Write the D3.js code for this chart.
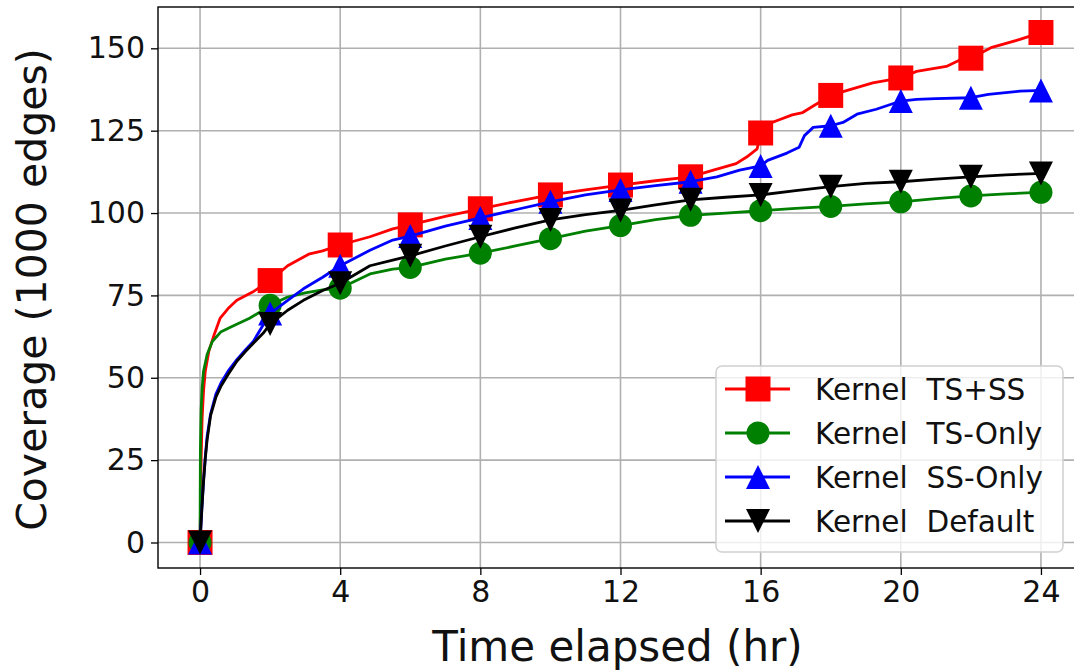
<!DOCTYPE html>
<html>
<head>
<meta charset="utf-8">
<script src="https://cdn.jsdelivr.net/npm/d3@7"></script>
<style>
  html, body { margin: 0; padding: 0; background: #fff; }
  svg { display: block; font-family: "DejaVu Sans", sans-serif; }
</style>
</head>
<body>
<svg id="chart" width="1074" height="671"></svg>
<script>
// ---- data ----
const seriesNames = ["Kernel  TS+SS", "Kernel  TS-Only", "Kernel  SS-Only", "Kernel  Default"];
const seriesColors = ["#ff0000", "#008000", "#0000ff", "#000000"];
const seriesMarkers = ["square", "circle", "triangleUp", "triangleDown"];
const markerHours = [0, 2, 4, 6, 8, 10, 12, 14, 16, 18, 20, 22, 24];
const xTicks = [0, 4, 8, 12, 16, 20, 24];
const yTicks = [0, 25, 50, 75, 100, 125, 150];

const tsssHours = [0, 0.03, 0.06, 0.1, 0.15, 0.25, 0.4, 0.57, 0.8, 1.05, 1.5, 2, 2.5, 3.1, 3.5, 4, 4.85, 5.5, 6, 7, 8, 9, 10, 11, 12, 13, 14, 14.65, 15.3, 15.6, 15.9, 16, 16.2, 16.55, 16.9, 17.2, 17.5, 18, 18.4, 19.2, 20, 20.45, 21.3, 21.7, 22, 22.6, 23.4, 24];
const tsssValues = [0, 25, 38, 46, 52, 58, 63, 68, 71, 73.5, 76, 79.5, 84, 87.5, 88.5, 90.3, 92.8, 95.2, 96.4, 99, 101.3, 103.5, 105.5, 107, 108.5, 109.8, 111, 113, 115, 117, 119.5, 124.3, 127, 128.4, 129.8, 130.5, 132.5, 135.7, 137, 139.5, 141, 143, 144.5, 146.5, 147, 150.3, 152.7, 154.8];

const tsOnlyHours = [0, 0.01, 0.03, 0.06, 0.1, 0.2, 0.35, 0.6, 1.0, 1.4, 1.8, 2, 2.5, 3, 3.5, 4, 4.85, 5.5, 6, 7, 8, 9, 10, 11, 12, 13, 14, 15, 16, 17, 18, 19, 20, 21, 22, 23, 24];
const tsOnlyValues = [0, 28, 40, 47, 52, 57, 61, 64, 66, 68, 70.5, 72, 74.5, 75.8, 76.7, 77.2, 81.5, 83, 83.5, 86, 87.8, 90, 92.2, 94.5, 96.2, 98, 99.3, 100, 100.7, 101.4, 102, 102.8, 103.4, 104.4, 105.2, 105.8, 106.3];

const ssOnlyHours = [0, 0.05, 0.1, 0.15, 0.2, 0.3, 0.45, 0.6, 0.8, 1.05, 1.3, 1.52, 1.8, 2, 2.5, 2.95, 3.5, 4, 4.85, 5.5, 6, 7, 8, 9, 10, 11, 12, 13, 14, 14.75, 15.4, 16, 16.2, 16.75, 17.1, 17.25, 17.5, 18, 18.35, 18.75, 19.3, 20, 20.45, 21, 22, 22.5, 23.4, 24];
const ssOnlyValues = [0, 10, 19, 26, 32, 39, 45, 48.5, 52, 55.5, 58.5, 61, 66, 69.5, 73.5, 77, 80.5, 84, 88.7, 91.8, 93, 96, 98.5, 101, 103.4, 105.5, 107, 108.3, 109.5, 111, 113, 114.3, 116, 118.2, 120, 123.5, 126, 126.5, 127.5, 130, 131.5, 134, 134.5, 134.7, 135, 136, 137, 137.2];

const defaultHours = [0, 0.05, 0.1, 0.15, 0.2, 0.3, 0.45, 0.6, 0.8, 1.05, 1.3, 1.52, 1.8, 2, 2.5, 2.95, 3.5, 4, 4.85, 5.5, 6, 7, 8, 9, 10, 11, 12, 13, 14, 15, 16, 17, 18, 19, 20, 21, 22, 23, 24];
const defaultValues = [0, 10, 18.5, 25.5, 31, 38.5, 44, 47.5, 51, 55, 58, 60.5, 63.5, 66.3, 70.5, 73.5, 76.5, 78.7, 84, 85.7, 87, 90, 92.8, 95.5, 97.9, 99.5, 100.8, 102.5, 104, 104.8, 105.5, 106.8, 108, 109, 109.5, 110.3, 111, 111.6, 112];

const xLabel = "Time elapsed (hr)";
const yLabel = "Coverage (1000 edges)";

// ---- layout ----
const svg = d3.select("#chart");
const W = 1074, H = 671;
const plot = { left: 158, right: 1083, top: 7, bottom: 568 };

svg.append("rect").attr("width", W).attr("height", H).attr("fill", "#fff");

const x = d3.scaleLinear().domain([-1.2, 25.2]).range([plot.left, plot.right]);
const y = d3.scaleLinear().domain([-7.74, 162.54]).range([plot.bottom, plot.top]);

// grid
const grid = svg.append("g");
grid.selectAll("line.gx").data(xTicks).enter().append("line")
  .attr("x1", d => x(d)).attr("x2", d => x(d))
  .attr("y1", plot.top).attr("y2", plot.bottom)
  .attr("stroke", "#b0b0b0").attr("stroke-width", 1.6);
grid.selectAll("line.gy").data(yTicks).enter().append("line")
  .attr("x1", plot.left).attr("x2", plot.right)
  .attr("y1", d => y(d)).attr("y2", d => y(d))
  .attr("stroke", "#b0b0b0").attr("stroke-width", 1.6);

// axes
const xAxis = d3.axisBottom(x).tickValues(xTicks).tickSize(7).tickPadding(6).tickFormat(d3.format("d"));
const yAxis = d3.axisLeft(y).tickValues(yTicks).tickSize(7).tickPadding(6).tickFormat(d3.format("d"));

const gx = svg.append("g").attr("transform", `translate(0,${plot.bottom})`).call(xAxis);
const gy = svg.append("g").attr("transform", `translate(${plot.left},0)`).call(yAxis);
[gx, gy].forEach(g => {
  g.select(".domain").remove();
  g.selectAll(".tick line").attr("stroke", "#000").attr("stroke-width", 1.3);
  g.selectAll(".tick text").attr("fill", "#111").attr("font-size", 30)
    .attr("font-family", "DejaVu Sans");
});

// lines + markers
const seriesData = [
  tsssHours.map((h, i) => [h, tsssValues[i]]),
  tsOnlyHours.map((h, i) => [h, tsOnlyValues[i]]),
  ssOnlyHours.map((h, i) => [h, ssOnlyValues[i]]),
  defaultHours.map((h, i) => [h, defaultValues[i]])
];

svg.append("defs").append("clipPath").attr("id", "clip")
  .append("rect").attr("x", plot.left).attr("y", plot.top)
  .attr("width", plot.right - plot.left).attr("height", plot.bottom - plot.top);

const line = d3.line().x(d => x(d[0])).y(d => y(d[1]));

function markerPath(type, cx, cy) {
  const s = 12;
  if (type === "square") {
    const h = 12.5;
    return `M${cx - h},${cy - h}H${cx + h}V${cy + h}H${cx - h}Z`;
  }
  if (type === "circle") {
    const r = 11.5;
    return `M${cx - r},${cy}A${r},${r} 0 1,0 ${cx + r},${cy}A${r},${r} 0 1,0 ${cx - r},${cy}Z`;
  }
  if (type === "triangleUp") {
    return `M${cx},${cy - s}L${cx + s},${cy + s}L${cx - s},${cy + s}Z`;
  }
  return `M${cx},${cy + s}L${cx + s},${cy - s}L${cx - s},${cy - s}Z`;
}

const plotG = svg.append("g").attr("clip-path", "url(#clip)");
seriesData.forEach((data, i) => {
  const g = plotG.append("g");
  g.append("path").datum(data)
    .attr("d", line).attr("fill", "none")
    .attr("stroke", seriesColors[i]).attr("stroke-width", 2.8)
    .attr("stroke-linejoin", "round").attr("stroke-linecap", "square");
  const pts = data.filter(d => markerHours.includes(d[0]));
  g.selectAll("path.m").data(pts).enter().append("path")
    .attr("d", d => markerPath(seriesMarkers[i], x(d[0]), y(d[1])))
    .attr("fill", seriesColors[i]);
});

// spines
svg.append("rect").attr("x", plot.left).attr("y", plot.top)
  .attr("width", plot.right - plot.left).attr("height", plot.bottom - plot.top)
  .attr("fill", "none").attr("stroke", "#000").attr("stroke-width", 1.4);

// axis titles
svg.append("text")
  .attr("x", (plot.left + plot.right) / 2 - 3).attr("y", 661)
  .attr("text-anchor", "middle").attr("font-size", 42).attr("fill", "#111")
  .text(xLabel);
svg.append("text")
  .attr("transform", `translate(46,${(plot.top + plot.bottom) / 2 + 2}) rotate(-90)`)
  .attr("text-anchor", "middle").attr("font-size", 41).attr("fill", "#111")
  .text(yLabel);

// legend
const leg = { x: 716, y: 366, w: 347, h: 186, rowH: 44, firstRow: 389 };
const lg = svg.append("g");
lg.append("rect").attr("x", leg.x).attr("y", leg.y).attr("width", leg.w).attr("height", leg.h)
  .attr("rx", 6).attr("fill", "#fff").attr("fill-opacity", 0.8)
  .attr("stroke", "#d0d0d0").attr("stroke-width", 1.5);
seriesNames.forEach((name, i) => {
  const cy = leg.firstRow + i * leg.rowH;
  lg.append("line").attr("x1", 725).attr("x2", 790).attr("y1", cy).attr("y2", cy)
    .attr("stroke", seriesColors[i]).attr("stroke-width", 2.8);
  lg.append("path").attr("d", markerPath(seriesMarkers[i], 758, cy)).attr("fill", seriesColors[i]);
  lg.append("text").attr("x", 815).attr("y", cy).attr("dy", "0.36em")
    .attr("font-size", 29.5).attr("fill", "#111")
    .attr("xml:space", "preserve").style("white-space", "pre")
    .text(name);
});
</script>
</body>
</html>
